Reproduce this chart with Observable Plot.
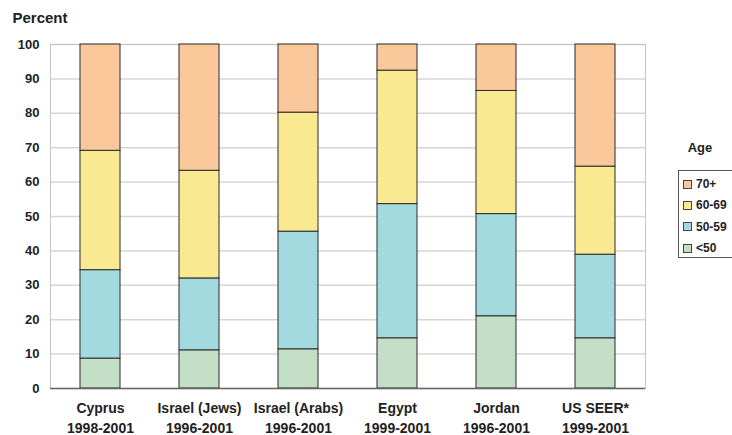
<!DOCTYPE html>
<html>
<head>
<meta charset="utf-8">
<script src="https://cdn.jsdelivr.net/npm/d3@7"></script>
<script src="https://cdn.jsdelivr.net/npm/@observablehq/plot@0.6"></script>
<style>
  html, body { margin: 0; padding: 0; background: #fff; overflow: hidden; }
  #wrap { position: relative; width: 732px; height: 435px; overflow: hidden; font-family: "Liberation Sans", Arial, sans-serif; }
  #legend-title { position: absolute; left: 678px; top: 140px; width: 44px; text-align: center; font-size: 13px; font-weight: bold; color: #222; }
  #legend { position: absolute; left: 678px; top: 170px; width: 80px; height: 88px; border: 1px solid #555; box-sizing: border-box; }
  .item { position: absolute; left: 4px; height: 14px; display: flex; align-items: center; font-size: 12px; font-weight: bold; color: #222; }
  .sw { width: 7px; height: 7px; border: 1px solid #444; margin-right: 4px; }
</style>
</head>
<body>
<div id="wrap"></div>
<script>
const countries = ["Cyprus", "Israel (Jews)", "Israel (Arabs)", "Egypt", "Jordan", "US SEER*"];
const periods = ["1998-2001", "1996-2001", "1996-2001", "1999-2001", "1996-2001", "1999-2001"];
const ages = ["<50", "50-59", "60-69", "70+"];
const colors = ["#c3e0c7", "#a3dadf", "#f9ea91", "#fbc89b"];
const under50 = [8.7, 11.1, 11.4, 14.6, 21.0, 14.6];
const age5059 = [25.7, 20.9, 34.2, 39.0, 29.7, 24.3];
const age6069 = [34.7, 31.3, 34.6, 38.8, 35.8, 25.6];
const age70p  = [30.9, 36.7, 19.8, 7.6, 13.5, 35.5];
const yTicks = [0, 10, 20, 30, 40, 50, 60, 70, 80, 90, 100];

const series = [under50, age5059, age6069, age70p];
const data = [];
countries.forEach((c, i) => {
  ages.forEach((a, j) => data.push({country: c, age: a, value: series[j][i]}));
});

const font = "'Liberation Sans', Arial, sans-serif";

const chart = Plot.plot({
  width: 732,
  height: 435,
  marginLeft: 50,
  marginRight: 87,
  marginTop: 44,
  marginBottom: 47,
  style: {fontFamily: font, color: "#222", background: "white"},
  x: {domain: countries, paddingInner: 0.6, paddingOuter: 0.3, axis: null},
  y: {domain: [0, 100], axis: null},
  color: {domain: ages, range: colors},
  marks: [
    Plot.gridY(yTicks, {stroke: "#d6d6d6", strokeOpacity: 1, strokeWidth: 1.5}),
    Plot.frame({stroke: "#c4c4c4"}),
    Plot.barY(data, {x: "country", y: "value", fill: "age", stroke: "#2b2b2b", strokeWidth: 1}),
    Plot.ruleY([0], {stroke: "#666", strokeWidth: 1.5}),
    Plot.axisY(yTicks, {tickSize: 0, tickPadding: 11, fontSize: 13, fontWeight: "bold", label: null, tickFormat: d => d}),
    Plot.text(countries, {x: d => d, text: (d, i) => d + "\n" + periods[i], frameAnchor: "bottom", dy: 28, lineAnchor: "middle", lineHeight: 1.42, fontSize: 14, fontWeight: "bold", fill: "#222"}),
    Plot.text(["Percent"], {text: d => d, frameAnchor: "top-left", dx: -38, dy: -26, textAnchor: "start", lineAnchor: "middle", fontSize: 15, fontWeight: "bold", fill: "#222"})
  ]
});

const wrap = document.getElementById("wrap");
wrap.appendChild(chart);

const title = document.createElement("div");
title.id = "legend-title";
title.textContent = "Age";
wrap.appendChild(title);

const legend = document.createElement("div");
legend.id = "legend";
const rowsTop = [6, 27, 48.5, 70];
ages.slice().reverse().forEach((a, k) => {
  const item = document.createElement("div");
  item.className = "item";
  item.style.top = rowsTop[k] + "px";
  const sw = document.createElement("span");
  sw.className = "sw";
  sw.style.background = colors[ages.indexOf(a)];
  item.appendChild(sw);
  item.appendChild(document.createTextNode(a));
  legend.appendChild(item);
});
wrap.appendChild(legend);
</script>
</body>
</html>
